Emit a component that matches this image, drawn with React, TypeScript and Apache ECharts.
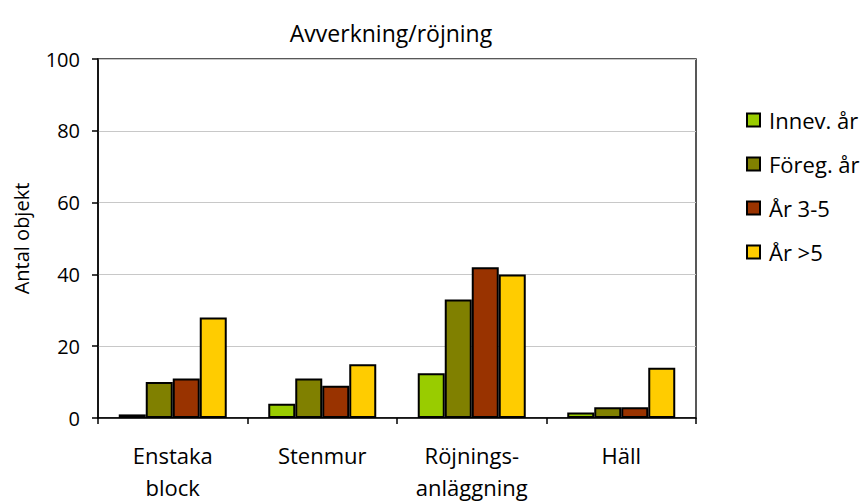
import React, { useEffect, useRef } from "react";
import * as echarts from "echarts";

const categories = ["Enstaka\nblock", "Stenmur", "Röjnings-\nanläggning", "Häll"];
const seriesNames = ["Innev. år", "Föreg. år", "År 3-5", "År >5"];
const innevAr = [1, 4, 12.5, 1.5];
const foregAr = [10, 11, 33, 3];
const ar35 = [11, 9, 42, 3];
const arOver5 = [28, 15, 40, 14];
const colors = ["#99CC00", "#808000", "#993300", "#FFCC00"];
const yTicks = { min: 0, max: 100, interval: 20 };
const titleText = "Avverkning/röjning";
const yAxisName = "Antal objekt";

const FONT = "'Open Sans', 'Noto Sans', sans-serif";

export default function App() {
  const ref = useRef<HTMLDivElement>(null);
  useEffect(() => {
    document.body.style.margin = "0";
    if (!ref.current) return;
    const chart = echarts.init(ref.current, null, { renderer: "svg" });
    const values = [innevAr, foregAr, ar35, arOver5];
    chart.setOption({
      animation: false,
      backgroundColor: "#ffffff",
      textStyle: { fontFamily: FONT, color: "#000" },
      graphic: [
        {
          type: "text",
          x: 391,
          y: 33,
          style: {
            text: titleText,
            fontFamily: FONT,
            fontSize: 23,
            fill: "#000",
            align: "center",
            verticalAlign: "middle",
          },
        },
      ],
      grid: {
        left: 98,
        right: 169,
        top: 59,
        bottom: 86,
        containLabel: false,
        outerBoundsMode: "none",
        show: true,
        borderColor: "#222",
        borderWidth: 1.5,
      },
      legend: {
        orient: "vertical",
        left: 741,
        top: 104,
        itemWidth: 13,
        itemHeight: 13,
        itemGap: 22,
        icon: "rect",
        textStyle: {
          fontFamily: FONT,
          fontSize: 22,
          color: "#000",
          lineHeight: 22,
          padding: [0, 0, 0, 4],
        },
        data: seriesNames,
      },
      xAxis: {
        type: "category",
        data: categories,
        boundaryGap: true,
        axisLine: { lineStyle: { color: "#000", width: 1.5 } },
        axisTick: { show: true, length: 6, lineStyle: { color: "#000", width: 1.5 } },
        axisLabel: {
          fontFamily: FONT,
          fontSize: 22,
          color: "#000",
          lineHeight: 32,
          margin: 21,
          interval: 0,
        },
      },
      yAxis: {
        type: "value",
        min: yTicks.min,
        max: yTicks.max,
        interval: yTicks.interval,
        name: yAxisName,
        nameLocation: "middle",
        nameRotate: 90,
        nameGap: 67,
        nameTextStyle: { fontFamily: FONT, fontSize: 20, color: "#000" },
        axisLine: { show: true, lineStyle: { color: "#000", width: 1.5 } },
        axisTick: { show: true, length: 6, lineStyle: { color: "#000", width: 1.5 } },
        axisLabel: { fontFamily: FONT, fontSize: 20, color: "#000", margin: 18 },
        splitLine: { show: true, lineStyle: { color: "#c8c8c8", width: 1 } },
      },
      series: seriesNames.map((name, i) => ({
        name,
        type: "bar",
        data: values[i],
        barWidth: 27,
        barGap: "0%",
        itemStyle: { color: colors[i], borderColor: "#000", borderWidth: 2 },
      })),
    });
    return () => chart.dispose();
  }, []);
  return <div ref={ref} style={{ width: 865, height: 504 }} />;
}
